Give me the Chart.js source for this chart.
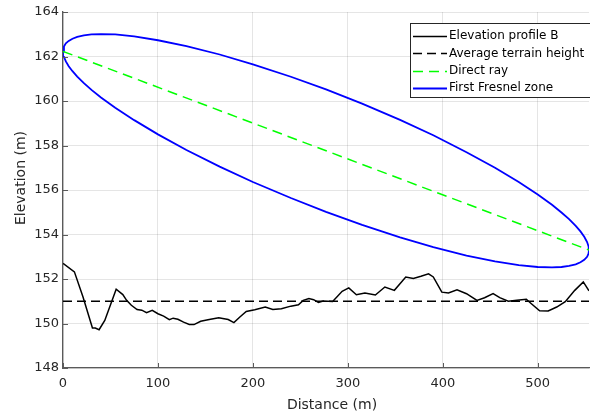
<!DOCTYPE html>
<html>
<head>
<meta charset="utf-8">
<script src="https://cdn.jsdelivr.net/npm/chart.js@4.4.0/dist/chart.umd.min.js"></script>
<style>
  html, body { margin: 0; padding: 0; background: #fff; }
  canvas { display: block; }
</style>
</head>
<body>
<canvas id="c" width="590" height="417"></canvas>
<script>
// Terrain profile along the link (m)
const distance = [0,12,21,31,34,38,44,56,63,67,72,78,83,88,94,100,106,112,116,121,127,133,138,145,154,164,174,180,186,193,202,213,221,230,240,248,253,259,264,269,274,284,294,301,309,318,329,339,349,361,369,377,385,390,399,406,415,425,436,444,453,460,469,478,488,493,502,511,520,529,539,548,554];
const elevation = [152.70,152.32,151.20,149.80,149.80,149.72,150.14,151.54,151.30,151.04,150.82,150.63,150.60,150.49,150.59,150.44,150.33,150.17,150.24,150.19,150.06,149.96,149.95,150.10,150.18,150.26,150.18,150.04,150.28,150.54,150.62,150.74,150.63,150.66,150.78,150.84,151.04,151.12,151.07,150.95,151.01,150.99,151.45,151.60,151.29,151.37,151.28,151.64,151.49,152.09,152.02,152.12,152.23,152.09,151.41,151.37,151.51,151.34,151.04,151.16,151.34,151.16,151.00,151.04,151.09,150.90,150.57,150.56,150.74,150.98,151.49,151.87,151.47];

// Mean terrain height (m)
const averageHeight = 151.0;

// Line of sight between the two antennas
const rayDistance = [0, 554];
const rayHeight = [162.23, 153.30];

// First Fresnel zone boundary: upper and lower edges
const zoneDistance = [0,1,3,6,10,15,22,30,40,55,75,100,130,165,200,240,277,315,355,390,425,455,480,500,515,525,533,540,545,549,552,553.5,554];
const zoneUpper = [162.23,162.45,162.59,162.70,162.80,162.88,162.95,162.99,163.01,162.99,162.90,162.73,162.47,162.09,161.65,161.09,160.52,159.88,159.15,158.46,157.70,157.00,156.36,155.80,155.34,154.99,154.69,154.39,154.14,153.90,153.66,153.47,153.30];
const zoneLower = [162.23,161.98,161.78,161.56,161.34,161.10,160.80,160.50,160.16,159.70,159.14,158.50,157.80,157.05,156.36,155.64,155.02,154.43,153.87,153.43,153.05,152.79,152.62,152.54,152.52,152.54,152.59,152.66,152.75,152.86,153.00,153.14,153.30];

const xTicks = [0, 100, 200, 300, 400, 500];
const yTicks = [148, 150, 152, 154, 156, 158, 160, 162, 164];
const seriesLabels = ['Elevation profile B', 'Average terrain height', 'Direct ray', 'First Fresnel zone'];

const FONT = '"DejaVu Sans", Verdana, sans-serif';
const X_MAX = 554;

const pts = (xs, ys) => xs.map((x, i) => ({ x: x, y: ys[i] }));

const zonePath = pts(zoneDistance, zoneUpper)
  .concat(pts(zoneDistance, zoneLower).reverse());

const datasets = [
  { label: seriesLabels[0], data: pts(distance, elevation),
    borderColor: '#000000', borderWidth: 1.5 },
  { label: seriesLabels[1], data: pts([0, X_MAX], [averageHeight, averageHeight]),
    borderColor: '#000000', borderWidth: 1.5, borderDash: [9, 5] },
  { label: seriesLabels[2], data: pts(rayDistance, rayHeight),
    borderColor: '#00ff00', borderWidth: 1.5, borderDash: [10, 6] },
  { label: seriesLabels[3], data: zonePath,
    borderColor: '#0000ff', borderWidth: 1.8 }
].map(d => Object.assign({ showLine: true, pointRadius: 0, tension: 0, fill: false }, d));

// Inward tick marks on both axes
const innerTicks = {
  id: 'innerTicks',
  afterDatasetsDraw(chart) {
    const { ctx, chartArea: a, scales: { x, y } } = chart;
    ctx.save();
    ctx.strokeStyle = '#5a5a5a';
    ctx.lineWidth = 1;
    ctx.beginPath();
    xTicks.forEach(v => {
      const px = Math.round(x.getPixelForValue(v)) + 0.5;
      ctx.moveTo(px, a.bottom); ctx.lineTo(px, a.bottom - 5);
    });
    yTicks.forEach(v => {
      const py = Math.round(y.getPixelForValue(v)) + 0.5;
      ctx.moveTo(a.left, py); ctx.lineTo(a.left + 5, py);
    });
    ctx.stroke();
    ctx.restore();
  }
};

// Boxed legend in the upper right corner of the plot
const boxLegend = {
  id: 'boxLegend',
  afterDraw(chart) {
    const ctx = chart.ctx;
    const left = 410.5, top = 23.5, w = 182, h = 74;
    ctx.save();
    ctx.fillStyle = '#ffffff';
    ctx.fillRect(left, top, w, h);
    ctx.strokeStyle = '#262626';
    ctx.lineWidth = 1;
    ctx.strokeRect(left, top, w, h);
    ctx.font = '12px ' + FONT;
    ctx.textBaseline = 'middle';
    ctx.textAlign = 'left';
    chart.data.datasets.forEach((ds, i) => {
      const yy = 36 + i * 17.4;
      ctx.strokeStyle = ds.borderColor;
      ctx.lineWidth = ds.borderWidth;
      ctx.setLineDash(ds.borderDash || []);
      ctx.beginPath();
      ctx.moveTo(413, Math.round(yy) + 0.5);
      ctx.lineTo(447, Math.round(yy) + 0.5);
      ctx.stroke();
      ctx.setLineDash([]);
      ctx.fillStyle = '#000000';
      ctx.fillText(ds.label, 449, yy);
    });
    ctx.restore();
  }
};

// Axis titles
const axisTitles = {
  id: 'axisTitles',
  afterDraw(chart) {
    const ctx = chart.ctx;
    ctx.save();
    ctx.font = '14px ' + FONT;
    ctx.fillStyle = '#262626';
    ctx.textAlign = 'center';
    ctx.textBaseline = 'middle';
    ctx.fillText('Distance (m)', 332, 405);
    ctx.translate(21, 178);
    ctx.rotate(-Math.PI / 2);
    ctx.fillText('Elevation (m)', 0, 0);
    ctx.restore();
  }
};

new Chart(document.getElementById('c'), {
  type: 'scatter',
  data: { datasets: datasets },
  plugins: [innerTicks, boxLegend, axisTitles],
  options: {
    responsive: false,
    animation: false,
    devicePixelRatio: 1,
    layout: { padding: { left: 0, right: 1, top: 12, bottom: 0 } },
    plugins: { legend: { display: false }, tooltip: { enabled: false } },
    scales: {
      x: {
        type: 'linear',
        min: 0, max: X_MAX,
        afterBuildTicks: s => { s.ticks = xTicks.map(v => ({ value: v })); },
        afterFit: s => { s.height = 49; },
        grid: { color: 'rgba(38,38,38,0.12)', drawTicks: false },
        border: { color: '#5a5a5a', width: 1.3 },
        ticks: { padding: 8, color: '#262626', font: { family: FONT, size: 13 } }
      },
      y: {
        type: 'linear',
        min: 148, max: 164,
        afterBuildTicks: s => { s.ticks = yTicks.map(v => ({ value: v })); },
        afterFit: s => { s.width = 63; },
        grid: { color: 'rgba(38,38,38,0.12)', drawTicks: false },
        border: { color: '#5a5a5a', width: 1.3 },
        ticks: { padding: 4, color: '#262626', font: { family: FONT, size: 13 } }
      }
    }
  }
});
</script>
</body>
</html>
